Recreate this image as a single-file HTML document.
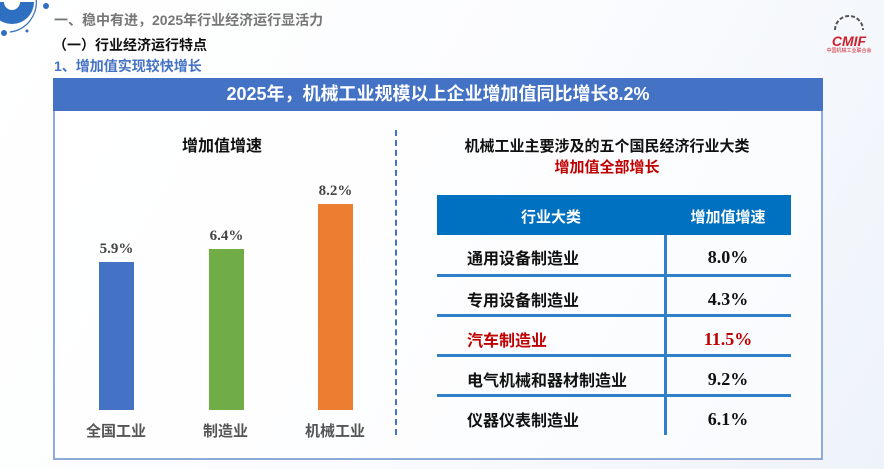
<!DOCTYPE html>
<html><head><meta charset="utf-8"><style>
*{margin:0;padding:0;box-sizing:border-box}
body{width:884px;height:469px;overflow:hidden;position:relative;background:linear-gradient(120deg,#fff 0%,#fbfcfe 50%,#eef3fa 100%);font-family:"Liberation Sans","Noto Sans CJK SC",sans-serif}
.a{position:absolute;white-space:nowrap}
.b{font-weight:bold}
.num{font-family:"Liberation Serif","Noto Serif CJK SC",serif;font-weight:bold}
.row{position:absolute;left:437px;width:354px;height:40px;border-top:3px solid #2f80c8}
.row span{position:absolute;top:10px;font-size:16px;font-weight:bold;color:#111}
.row .v{left:228px;width:126px;text-align:center;font-family:"Liberation Serif",serif;font-size:18px;top:12px}
</style></head><body>
<svg class="a" style="left:0;top:0" width="60" height="40"><path d="M-10 2 A22 22 0 0 0 34 2 Z" fill="#2f6fc2"/><circle cx="12" cy="2" r="8" fill="#fff"/><path d="M36 -2 A30 30 0 0 1 10 32" stroke="#2f6fc2" stroke-width="1.2" fill="none"/><circle cx="46" cy="6" r="3" fill="#2f6fc2"/><circle cx="4" cy="33" r="3" fill="#2f6fc2"/><circle cx="27" cy="31" r="1.5" fill="#2f6fc2"/></svg>
<div class="a b" style="left:54px;top:10px;font-size:14px;color:#777">一、稳中有进，2025年行业经济运行显活力</div>
<div class="a b" style="left:53px;top:35px;font-size:14px;color:#111">（一）行业经济运行特点</div>
<div class="a b" style="left:54px;top:56px;font-size:14px;color:#4472c4">1、增加值实现较快增长</div>
<div class="a" style="left:824px;top:8px;width:50px;text-align:center">
<svg width="40" height="22"><path d="M6 22 A14 14 0 0 1 34 22" stroke="#555" stroke-width="2" fill="none" stroke-dasharray="4 2"/></svg>
<div style="color:#d0202a;font-weight:bold;font-style:italic;font-size:14px;line-height:12px">CMIF</div>
<div style="color:#d0202a;font-size:5px">中国机械工业联合会</div></div>
<div class="a" style="left:53px;top:78px;width:770px;height:382px;border:2px solid #8eaadb;background:rgba(255,255,255,.6)"></div>
<div class="a b" style="left:53px;top:78px;width:770px;height:33px;background:#4472c4;color:#fff;font-size:18px;text-align:center;line-height:33px">2025年，机械工业规模以上企业增加值同比增长8.2%</div>
<div class="a" style="left:395px;top:130px;height:305px;border-left:2px dashed #4472c4"></div>
<div class="a b" style="left:182px;top:132px;font-size:16px;color:#111">增加值增速</div>
<div class="a" style="left:99px;top:262px;width:35px;height:148px;background:#4472c4"></div>
<div class="a" style="left:209px;top:249px;width:35px;height:161px;background:#70ad47"></div>
<div class="a" style="left:318px;top:204px;width:35px;height:206px;background:#ed7d31"></div>
<div class="a num" style="left:96px;top:241px;width:41px;text-align:center;font-size:15px;color:#444">5.9%</div>
<div class="a num" style="left:206px;top:228px;width:41px;text-align:center;font-size:15px;color:#444">6.4%</div>
<div class="a num" style="left:315px;top:183px;width:41px;text-align:center;font-size:15px;color:#444">8.2%</div>
<div class="a b" style="left:86px;top:420px;font-size:15px;color:#555">全国工业</div>
<div class="a b" style="left:203px;top:420px;font-size:15px;color:#555">制造业</div>
<div class="a b" style="left:305px;top:420px;font-size:15px;color:#555">机械工业</div>
<div class="a b" style="left:400px;top:135px;width:414px;text-align:center;font-size:15px;color:#111">机械工业主要涉及的五个国民经济行业大类</div>
<div class="a b" style="left:400px;top:156px;width:414px;text-align:center;font-size:15px;color:#c00000">增加值全部增长</div>
<div class="a" style="left:437px;top:195px;width:354px;height:40px;background:#0070c0"></div>
<div class="a b" style="left:437px;top:206px;width:228px;text-align:center;color:#fff;font-size:15px">行业大类</div>
<div class="a b" style="left:665px;top:206px;width:126px;text-align:center;color:#fff;font-size:15px">增加值增速</div>
<div class="a" style="left:664px;top:235px;height:200px;border-left:3px solid #2f80c8"></div>
<div class="row" style="top:235px;border-top:none"><span style="left:30px;top:10px">通用设备制造业</span><span class="v" style="top:12px">8.0%</span></div>
<div class="row" style="top:274px"><span style="left:30px">专用设备制造业</span><span class="v">4.3%</span></div>
<div class="row" style="top:314px"><span style="left:30px;color:#c00000">汽车制造业</span><span class="v" style="color:#c00000">11.5%</span></div>
<div class="row" style="top:354px"><span style="left:30px">电气机械和器材制造业</span><span class="v">9.2%</span></div>
<div class="row" style="top:394px"><span style="left:30px">仪器仪表制造业</span><span class="v">6.1%</span></div>
</body></html>
